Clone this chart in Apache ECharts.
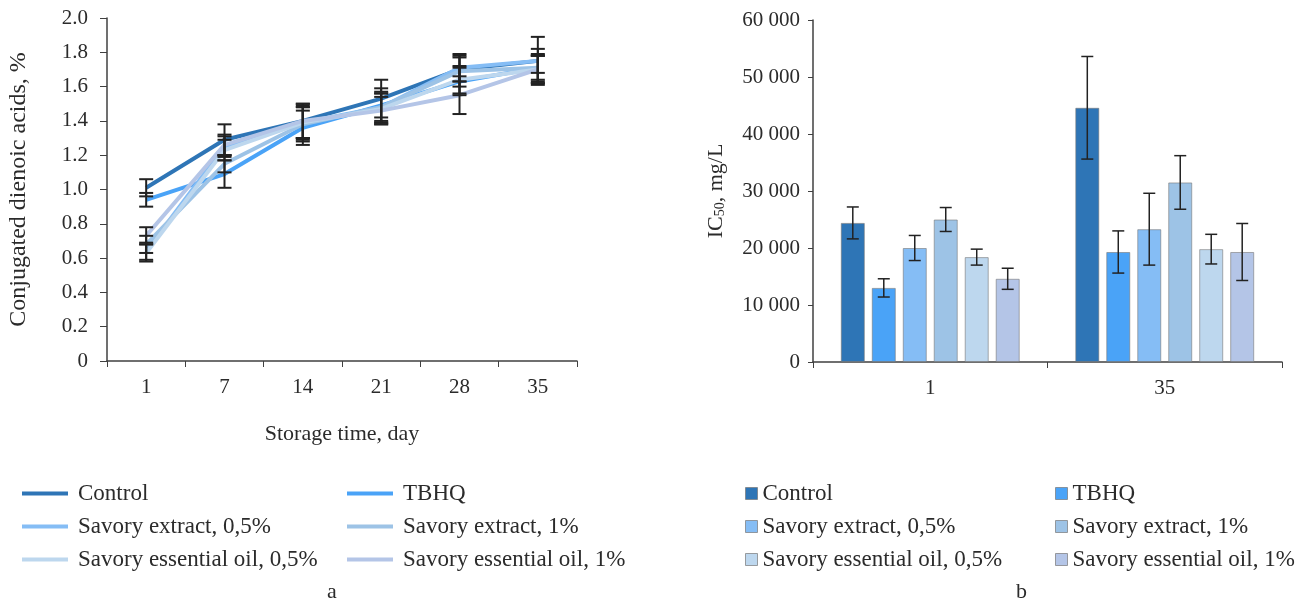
<!DOCTYPE html>
<html>
<head>
    <meta charset="utf-8" />
    <title>Storage time and IC50</title>
    <style>
        html, body { margin: 0; padding: 0; background: #fff; }
        #chart { width: 1307px; height: 605px; }
    </style>
</head>
<body>
    <div id="chart"></div>
    <script src="https://cdn.jsdelivr.net/npm/echarts@6/dist/echarts.min.js"></script>
    <script>
        // --- data ---
        var seriesNames = ['Control', 'TBHQ', 'Savory extract, 0,5%', 'Savory extract, 1%',
            'Savory essential oil, 0,5%', 'Savory essential oil, 1%'];
        var colors = ['#2e75b6', '#4aa3f7', '#85bdf5', '#9dc3e6', '#bdd7ee', '#b4c5e7'];

        // panel a: conjugated dienoic acids, %
        var days = ['1', '7', '14', '21', '28', '35'];
        var cdaControl = [1.01, 1.29, 1.40, 1.53, 1.70, 1.75];
        var cdaTBHQ = [0.94, 1.09, 1.36, 1.49, 1.63, 1.71];
        var cdaExt05 = [0.64, 1.25, 1.39, 1.48, 1.71, 1.75];
        var cdaExt1 = [0.68, 1.15, 1.38, 1.48, 1.69, 1.71];
        var cdaOil05 = [0.63, 1.23, 1.39, 1.47, 1.64, 1.70];
        var cdaOil1 = [0.73, 1.26, 1.40, 1.46, 1.55, 1.70];
        var cdaErrControl = [0.05, 0.09, 0.10, 0.11, 0.07, 0.14];
        var cdaErrTBHQ = [0.04, 0.08, 0.10, 0.10, 0.08, 0.07];
        var cdaErrExt05 = [0.05, 0.06, 0.09, 0.08, 0.08, 0.07];
        var cdaErrExt1 = [0.05, 0.05, 0.10, 0.09, 0.09, 0.08];
        var cdaErrOil05 = [0.05, 0.06, 0.10, 0.09, 0.08, 0.08];
        var cdaErrOil1 = [0.05, 0.06, 0.10, 0.08, 0.11, 0.08];

        // panel b: IC50, mg/L
        var icDays = ['1', '35'];
        var icControl = [24400, 44600];
        var icTBHQ = [13000, 19300];
        var icExt05 = [20000, 23300];
        var icExt1 = [25000, 31500];
        var icOil05 = [18400, 19800];
        var icOil1 = [14600, 19300];
        var icErrControl = [2800, 9000];
        var icErrTBHQ = [1600, 3700];
        var icErrExt05 = [2200, 6300];
        var icErrExt1 = [2100, 4700];
        var icErrOil05 = [1400, 2600];
        var icErrOil1 = [1850, 5000];

        var cdaValues = [cdaControl, cdaTBHQ, cdaExt05, cdaExt1, cdaOil05, cdaOil1];
        var cdaErrors = [cdaErrControl, cdaErrTBHQ, cdaErrExt05, cdaErrExt1, cdaErrOil05, cdaErrOil1];
        var icValues = [icControl, icTBHQ, icExt05, icExt1, icOil05, icOil1];
        var icErrors = [icErrControl, icErrTBHQ, icErrExt05, icErrExt1, icErrOil05, icErrOil1];

        var font = '"Liberation Serif", "DejaVu Serif", serif';
        var txt = '#2b2b2b';
        var axisCol = '#404040';
        var BAR_CAT_GAP = '23.7%', BAR_GAP = '29%';

        // error bar data
        var lineErrData = [];
        cdaValues.forEach(function (vals, s) {
            vals.forEach(function (v, i) {
                lineErrData.push([i, v - cdaErrors[s][i], v + cdaErrors[s][i]]);
            });
        });
        var barErrData = [];
        icValues.forEach(function (vals, s) {
            vals.forEach(function (v, i) {
                barErrData.push([i, s, v - icErrors[s][i], v + icErrors[s][i]]);
            });
        });

        function drawErr(x, lo, hi, cap, w) {
            var style = { stroke: '#222', lineWidth: w };
            return {
                type: 'group',
                children: [
                    { type: 'line', shape: { x1: x, y1: lo[1], x2: x, y2: hi[1] }, style: style },
                    { type: 'line', shape: { x1: x - cap, y1: lo[1], x2: x + cap, y2: lo[1] }, style: style },
                    { type: 'line', shape: { x1: x - cap, y1: hi[1], x2: x + cap, y2: hi[1] }, style: style }
                ]
            };
        }

        var series = [];
        seriesNames.forEach(function (name, s) {
            series.push({
                name: name,
                type: 'line',
                xAxisIndex: 0,
                yAxisIndex: 0,
                data: cdaValues[s],
                symbol: 'none',
                color: colors[s],
                lineStyle: { width: 4, color: colors[s] },
                z: 2
            });
        });
        series.push({
            type: 'custom',
            xAxisIndex: 0,
            yAxisIndex: 0,
            data: lineErrData,
            z: 5,
            renderItem: function (params, api) {
                var lo = api.coord([api.value(0), api.value(1)]);
                var hi = api.coord([api.value(0), api.value(2)]);
                return drawErr(lo[0], lo, hi, 7, 2);
            }
        });
        seriesNames.forEach(function (name, s) {
            series.push({
                name: name,
                type: 'bar',
                xAxisIndex: 1,
                yAxisIndex: 1,
                data: icValues[s],
                barGap: BAR_GAP,
                barCategoryGap: BAR_CAT_GAP,
                itemStyle: { color: colors[s], borderColor: 'rgba(120,120,120,0.6)', borderWidth: 1 }
            });
        });
        series.push({
            type: 'custom',
            xAxisIndex: 1,
            yAxisIndex: 1,
            data: barErrData,
            z: 5,
            renderItem: function (params, api) {
                var cat = api.value(0), s = api.value(1);
                var lo = api.coord([cat, api.value(2)]);
                var hi = api.coord([cat, api.value(3)]);
                var off;
                var layout = api.barLayout ? api.barLayout({ count: 6, barGap: BAR_GAP, barCategoryGap: BAR_CAT_GAP }) : null;
                if (layout && layout[s]) {
                    off = layout[s].offsetCenter;
                } else {
                    var band = api.size([1, 0])[0];
                    var avail = band * (1 - 0.237);
                    var bw = avail / (6 + 5 * 0.29);
                    off = -avail / 2 + s * bw * 1.29 + bw / 2;
                }
                return drawErr(lo[0] + off, lo, hi, 6, 1.5);
            }
        });

        // legends, one per item so the two columns line up
        var legends = [];
        var rowsTop = [482, 515, 548];
        seriesNames.forEach(function (name, s) {
            var row = Math.floor(s / 2), col = s % 2;
            legends.push({
                data: [name],
                left: col === 0 ? 22 : 347,
                top: rowsTop[row],
                padding: 0,
                icon: 'rect',
                itemWidth: 46,
                itemHeight: 4,
                selectedMode: false,
                textStyle: { fontFamily: font, fontSize: 23, color: txt, padding: [0, 0, 0, 5] }
            });
            legends.push({
                data: [{ name: name, itemStyle: { color: colors[s], borderColor: 'rgba(120,120,120,0.7)', borderWidth: 1 } }],
                left: col === 0 ? 745 : 1055,
                top: rowsTop[row],
                padding: 0,
                icon: 'rect',
                itemWidth: 12,
                itemHeight: 12,
                selectedMode: false,
                textStyle: { fontFamily: font, fontSize: 23, color: txt, padding: [0, 0, 0, 0] }
            });
        });

        var option = {
            backgroundColor: '#fff',
            animation: false,
            textStyle: { fontFamily: font },
            title: [
                { text: 'a', left: 327, top: 581, padding: 0, textStyle: { fontFamily: font, fontSize: 22, fontWeight: 'normal', color: txt } },
                { text: 'b', left: 1016, top: 581, padding: 0, textStyle: { fontFamily: font, fontSize: 22, fontWeight: 'normal', color: txt } }
            ],
            legend: legends,
            grid: [
                { left: 107, top: 18, width: 470, height: 343 },
                { left: 813, top: 20, width: 469, height: 342 }
            ],
            xAxis: [{
                gridIndex: 0,
                type: 'category',
                data: days,
                boundaryGap: true,
                name: 'Storage time, day',
                nameLocation: 'middle',
                nameGap: 62,
                nameTextStyle: { fontFamily: font, fontSize: 22, color: txt },
                axisLine: { lineStyle: { color: axisCol, width: 1.5 } },
                axisTick: { show: true, alignWithLabel: false, length: 6, lineStyle: { color: axisCol } },
                axisLabel: { fontFamily: font, fontSize: 21, color: txt, margin: 16 },
                splitLine: { show: false }
            }, {
                gridIndex: 1,
                type: 'category',
                data: icDays,
                boundaryGap: true,
                axisLine: { lineStyle: { color: axisCol, width: 1.5 } },
                axisTick: { show: true, alignWithLabel: false, length: 6, lineStyle: { color: axisCol } },
                axisLabel: { fontFamily: font, fontSize: 21, color: txt, margin: 16 },
                splitLine: { show: false }
            }],
            yAxis: [{
                gridIndex: 0,
                type: 'value',
                min: 0,
                max: 2,
                interval: 0.2,
                name: 'Conjugated dienoic acids, %',
                nameLocation: 'middle',
                nameGap: 76,
                nameTextStyle: { fontFamily: font, fontSize: 24, color: txt },
                axisLine: { show: true, lineStyle: { color: axisCol, width: 1.5 } },
                axisTick: { show: true, length: 7, lineStyle: { color: axisCol } },
                axisLabel: {
                    fontFamily: font, fontSize: 21, color: txt, margin: 19,
                    formatter: function (v) { return v === 0 ? '0' : v.toFixed(1); }
                },
                splitLine: { show: false }
            }, {
                gridIndex: 1,
                type: 'value',
                min: 0,
                max: 60000,
                interval: 10000,
                name: 'IC{sub|50}, mg/L',
                nameLocation: 'middle',
                nameGap: 86,
                nameTextStyle: {
                    fontFamily: font, fontSize: 22, color: txt,
                    rich: { sub: { fontFamily: font, fontSize: 14, color: txt, verticalAlign: 'bottom', padding: [8, 0, 0, 0] } }
                },
                axisLine: { show: true, lineStyle: { color: axisCol, width: 1.5 } },
                axisTick: { show: true, length: 5, lineStyle: { color: axisCol } },
                axisLabel: {
                    fontFamily: font, fontSize: 21, color: txt, margin: 13,
                    formatter: function (v) { return String(v).replace(/\B(?=(\d{3})+(?!\d))/g, ' '); }
                },
                splitLine: { show: false }
            }],
            series: series
        };

        var chart = echarts.init(document.getElementById('chart'));
        chart.setOption(option);
    </script>
</body>
</html>
